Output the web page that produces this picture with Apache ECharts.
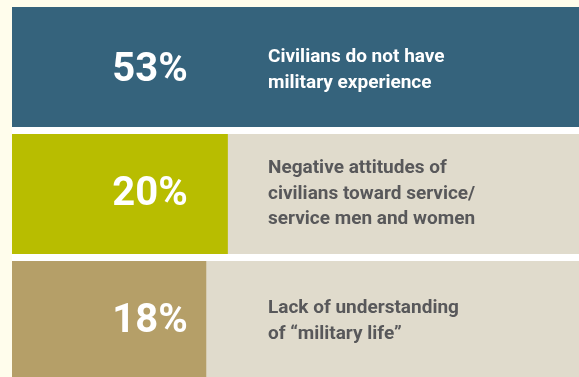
<!DOCTYPE html>
<html>
<head>
<meta charset="utf-8">
<script src="https://cdn.jsdelivr.net/npm/echarts@6/dist/echarts.min.js"></script>
<style>
  html, body { margin: 0; padding: 0; background: #fffdec; }
  #chart { width: 579px; height: 377px; }
</style>
</head>
<body>
<div id="chart"></div>
<script>
const categories = ['Civilians do not have\nmilitary experience', 'Negative attitudes of\ncivilians toward service/\nservice men and women', 'Lack of understanding\nof \u201cmilitary life\u201d'];
const values = [53, 20, 18];
const percentLabels = ['53%', '20%', '18%'];
const barColors = ['#35637c', '#b8bd00', '#b59f68'];
const descColors = ['#ffffff', '#58585a', '#58585a'];
const axisMax = 53;

const chart = echarts.init(document.getElementById('chart'), null, { renderer: 'canvas' });
chart.setOption({
  backgroundColor: '#fffdec',
  animation: false,
  graphic: [{
    type: 'rect', z: -10, silent: true,
    shape: { x: 12, y: 7, width: 567, height: 370 },
    style: { fill: '#ffffff' }
  }],
  grid: { left: 12, right: -5, top: 3.5, height: 381, containLabel: false, outerBoundsMode: 'none' },
  xAxis: { type: 'value', min: 0, max: axisMax, show: false },
  yAxis: { type: 'category', data: categories, inverse: true, show: false },
  series: [
    {
      type: 'bar',
      barWidth: 120,
      data: values.map((v, i) => ({
        value: v,
        itemStyle: { color: barColors[i] },
        label: { offset: [0, i === 0 ? 4 : 1] }
      })),
      showBackground: true,
      backgroundStyle: { color: '#e0dbcc' },
      label: {
        show: true,
        position: [138, '50%'],
        align: 'center',
        verticalAlign: 'middle',
        formatter: (p) => percentLabels[p.dataIndex],
        color: '#ffffff',
        fontFamily: 'Roboto',
        fontWeight: 'bold',
        fontSize: 40
      }
    },
    {
      type: 'bar',
      barWidth: 120,
      barGap: '-100%',
      silent: true,
      itemStyle: { color: 'rgba(0,0,0,0)' },
      data: categories.map((c, i) => ({
        value: axisMax,
        label: { color: descColors[i], offset: [0, i === 0 ? 3 : 0] }
      })),
      label: {
        show: true,
        position: [256, '50%'],
        align: 'left',
        verticalAlign: 'middle',
        formatter: (p) => categories[p.dataIndex],
        fontFamily: 'Roboto',
        fontWeight: 'bold',
        fontSize: 19,
        lineHeight: 25.5
      }
    }
  ]
});
</script>
</body>
</html>
